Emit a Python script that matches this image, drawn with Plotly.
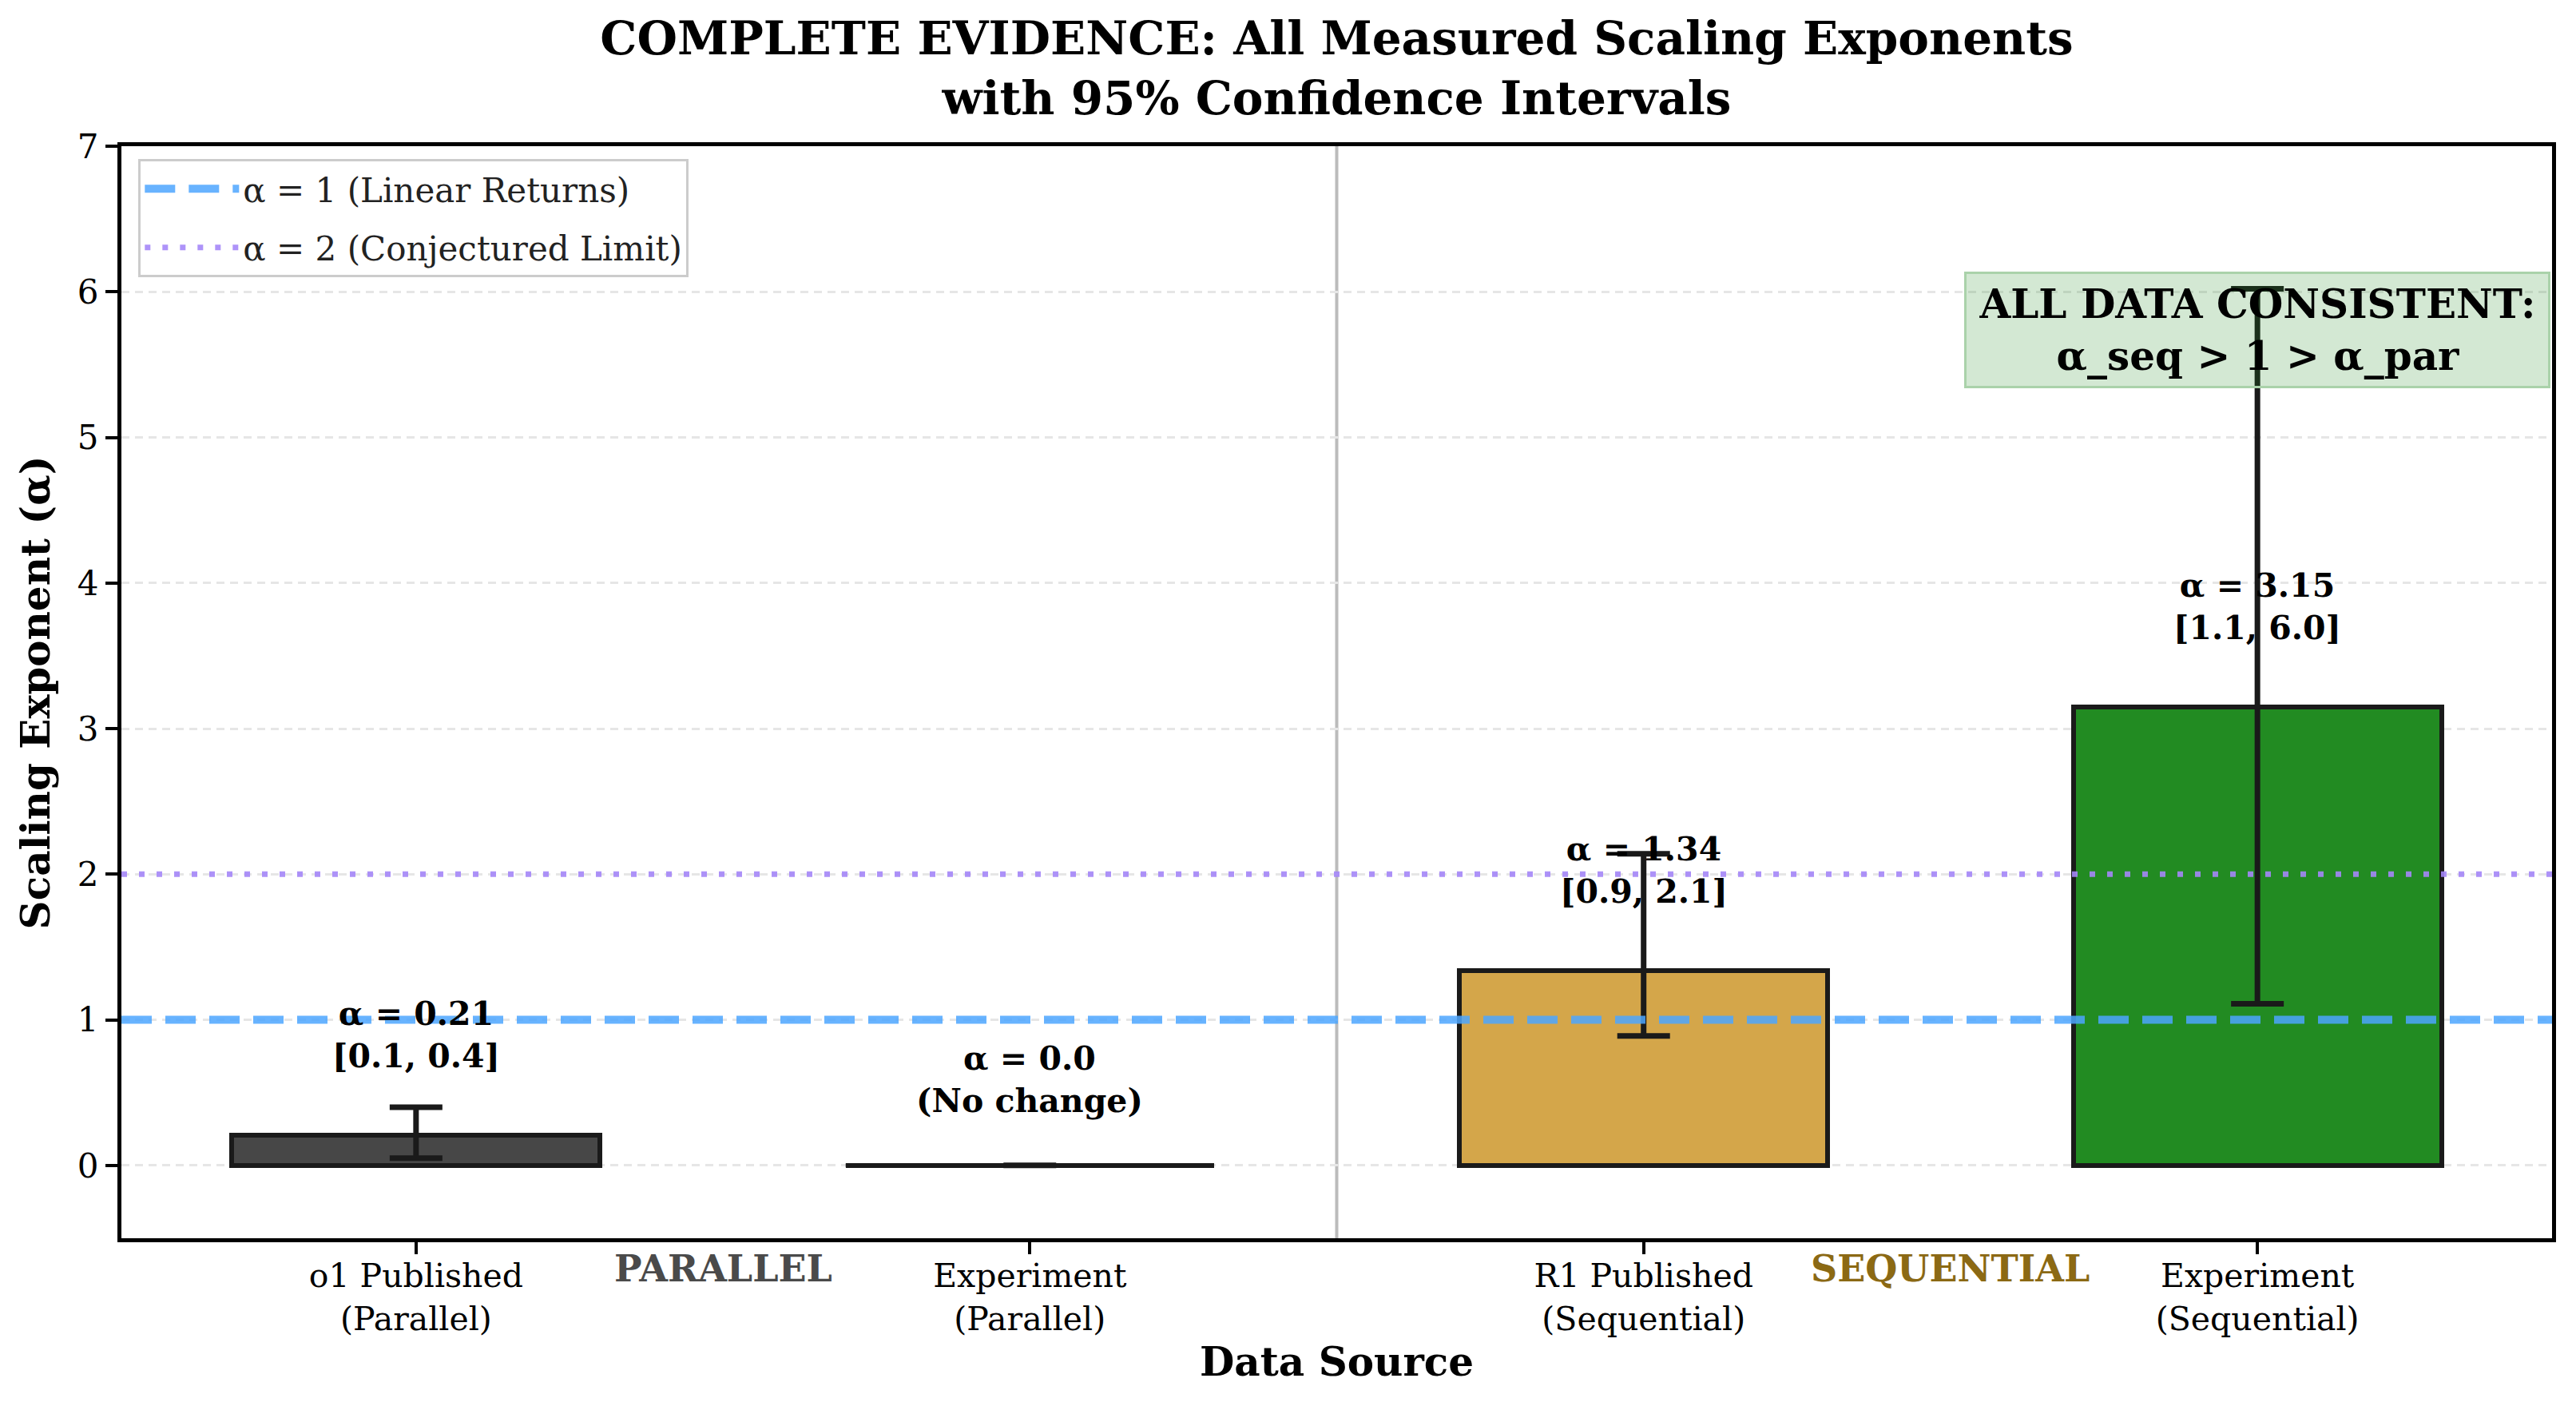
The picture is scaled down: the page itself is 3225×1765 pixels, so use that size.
import plotly.graph_objects as go

# ---------------- data ----------------
categories = ["o1 Published<br>(Parallel)", "Experiment<br>(Parallel)",
              "R1 Published<br>(Sequential)", "Experiment<br>(Sequential)"]
positions = [0, 1, 2, 3]
alpha_values = [0.21, 0.0, 1.34, 3.15]
ci_lower = [0.05, 0.0, 0.89, 1.11]
ci_upper = [0.40, 0.0, 2.14, 6.02]
value_labels = ["α = 0.21<br>[0.1, 0.4]", "α = 0.0<br>(No change)",
                "α = 1.34<br>[0.9, 2.1]", "α = 3.15<br>[1.1, 6.0]"]
bar_colors = ["#474747", "#666666", "#D4A64A", "#228B22"]
group_names = ["PARALLEL", "SEQUENTIAL"]
group_colors = ["#4a4a4a", "#8B6914"]
group_centers = [0.5, 2.5]
ref_lines = [1, 2]
ref_names = ["α = 1 (Linear Returns)", "α = 2 (Conjectured Limit)"]

FONT = "DejaVu Serif"
BAR_W = 0.6
W, H = 3225, 1765
ML, MR, MT, MB = 152, 30, 183, 215

fig = go.Figure()

fig.add_trace(go.Bar(
    x=positions, y=alpha_values, width=BAR_W,
    marker=dict(color=bar_colors, line=dict(color="#1a1a1a", width=6)),
    error_y=dict(type="data", symmetric=False,
                 array=[u - v for u, v in zip(ci_upper, alpha_values)],
                 arrayminus=[v - l for v, l in zip(alpha_values, ci_lower)],
                 color="#1a1a1a", thickness=7, width=33),
    showlegend=False, hoverinfo="skip",
))

# outline for zero-height bars (plotly does not stroke empty bars)
for p, v in zip(positions, alpha_values):
    if v == 0:
        fig.add_trace(go.Scatter(x=[p - BAR_W / 2, p + BAR_W / 2], y=[v, v],
                                 mode="lines", line=dict(color="#1a1a1a", width=5),
                                 showlegend=False, hoverinfo="skip"))

# value labels
for p, v, t in zip(positions, alpha_values, value_labels):
    fig.add_annotation(x=p, y=v + (0.4 if v > 0 else 0.3), text=f"<b>{t}</b>",
                       showarrow=False, xanchor="center", yanchor="bottom",
                       font=dict(family=FONT, size=41, color="black"))

# group labels below axis
for g, c, xc in zip(group_names, group_colors, group_centers):
    fig.add_annotation(x=xc, xref="x", y=-0.028, yref="paper", text=f"<b>{g}</b>",
                       showarrow=False, xanchor="center", yanchor="middle",
                       font=dict(family=FONT, size=46, color=c))

# reference lines (with legend entries)
fig.add_shape(type="line", xref="paper", x0=0, x1=1, yref="y", y0=ref_lines[0], y1=ref_lines[0],
              line=dict(color="#4da6ff", width=10, dash="38px,17px"), opacity=0.85,
              layer="above", showlegend=True, name=ref_names[0], legendgroup="g1")
fig.add_shape(type="line", xref="paper", x0=0, x1=1, yref="y", y0=ref_lines[1], y1=ref_lines[1],
              line=dict(color="rgb(165,135,248)", width=7, dash="7px,15px"), opacity=0.9,
              layer="above", showlegend=True, name=ref_names[1], legendgroup="g2")

# group separator
sep_x = (positions[1] + positions[2]) / 2
fig.add_shape(type="line", xref="x", x0=sep_x, x1=sep_x, yref="paper", y0=0, y1=1,
              line=dict(color="#bbbbbb", width=4), layer="below")

# summary box
fig.add_annotation(x=positions[3], y=5.74, xref="x", yref="y",
                   text="<b>ALL DATA CONSISTENT:<br>α_seq > 1 > α_par</b>",
                   showarrow=False, xanchor="center", yanchor="middle",
                   font=dict(family=FONT, size=50, color="black"),
                   bgcolor="rgba(34,139,34,0.2)", bordercolor="rgb(170,210,170)",
                   borderwidth=3, borderpad=8, width=712)

# axis titles
fig.add_annotation(x=-0.0352, y=0.5, xref="paper", yref="paper",
                   text="<b>Scaling Exponent (α)</b>", textangle=-90, showarrow=False,
                   xanchor="center", yanchor="middle",
                   font=dict(family=FONT, size=50, color="black"))
fig.add_annotation(x=0.5, y=-0.113, xref="paper", yref="paper",
                   text="<b>Data Source</b>", showarrow=False,
                   xanchor="center", yanchor="middle",
                   font=dict(family=FONT, size=50, color="black"))

fig.update_layout(
    width=W, height=H,
    margin=dict(l=ML, r=MR, t=MT, b=MB, autoexpand=False),
    paper_bgcolor="white", plot_bgcolor="white",
    font=dict(family=FONT, size=42, color="black"),
    title=dict(text="<b>COMPLETE EVIDENCE: All Measured Scaling Exponents<br>with 95% Confidence Intervals</b>",
               x=0.5, xref="paper", xanchor="center", y=1 - 68 / H, yanchor="middle",
               font=dict(family=FONT, size=58, color="black")),
    legend=dict(x=0.007, y=0.988, xanchor="left", yanchor="top",
                bgcolor="rgba(255,255,255,0.8)", bordercolor="#cccccc", borderwidth=3,
                font=dict(family=FONT, size=42, color="#222222"), itemwidth=118,
                traceorder="grouped", tracegroupgap=16),
    xaxis=dict(range=[-0.48, 3.48], tickmode="array", tickvals=positions, ticktext=categories,
               showgrid=False, zeroline=False, showline=True, linecolor="black", linewidth=5,
               mirror=True, ticks="outside", ticklen=15, tickwidth=4, tickcolor="black",
               ticklabelstandoff=-8,
               tickfont=dict(family=FONT, size=41, color="black")),
    yaxis=dict(range=[-0.5, 7], tickmode="array", tickvals=list(range(0, 8)),
               showgrid=True, gridcolor="#e6e6e6", gridwidth=3, griddash="10px,7px",
               zeroline=False, showline=True, linecolor="black", linewidth=5, mirror=True,
               ticks="outside", ticklen=15, tickwidth=4, tickcolor="black",
               tickfont=dict(family=FONT, size=42, color="black")),
    bargap=0,
)

fig.write_html("out.html")
